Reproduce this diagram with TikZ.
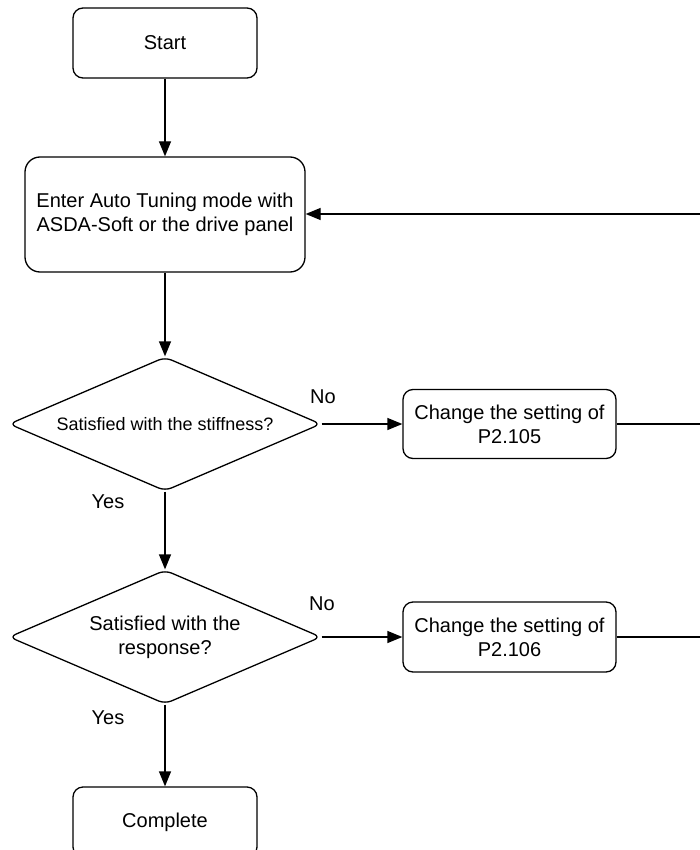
\documentclass[tikz,border=0pt]{standalone}
\usepackage{fontspec}
\setmainfont{Liberation Sans}
\usetikzlibrary{shapes.geometric,arrows.meta}
\begin{document}
\begin{tikzpicture}[x=1pt,y=-1pt,
  every node/.style={font=\fontsize{20}{24}\selectfont},
  rbox/.style={draw, line width=1.3pt, rounded corners=10pt, align=center, inner sep=0pt},
  decision/.style={draw, diamond, aspect=2.32, line width=1.3pt, rounded corners=7pt, inner sep=0pt, align=center},
  flow/.style={line width=1.3pt, -{Triangle[length=15pt,width=12pt]}},
  plain/.style={line width=1.3pt},
  lbl/.style={inner sep=0pt}]
\useasboundingbox (0,0) rectangle (700,850);
\clip (0,0) rectangle (700,850);

\node[rbox, minimum width=184pt, minimum height=70pt] (start) at (165,43) {Start};
\node[rbox, rounded corners=15pt, minimum width=280pt, minimum height=115pt] (enter) at (165,214.5)
  {Enter Auto Tuning mode with\\ASDA-Soft or the drive panel};
\node[decision, minimum width=312pt, minimum height=134pt, font=\fontsize{18}{22}\selectfont] (d1) at (165,424)
  {Satisfied with the stiffness?};
\node[rbox, minimum width=213pt, minimum height=69pt] (p105) at (509.5,424)
  {Change the setting of\\P2.105};
\node[decision, minimum width=312pt, minimum height=134pt] (d2) at (165,637)
  {Satisfied with the\\response?};
\node[rbox, minimum width=213pt, minimum height=70pt] (p106) at (509.5,637)
  {Change the setting of\\P2.106};
\node[rbox, minimum width=184pt, minimum height=70pt] (done) at (165,822) {Complete};

\coordinate (r1) at (702,424);
\coordinate (r2) at (702,637);
\coordinate (r0) at (702,214);

\node[lbl] (no1) at (323,397) {No};
\node[lbl] (yes1) at (108,502) {Yes};
\node[lbl] (no2) at (322,604) {No};
\node[lbl] (yes2) at (108,718) {Yes};

\draw[flow] (start) -- (enter);
\draw[flow] (enter) -- (d1.north);
\draw[flow] (d1.east) -- (p105.west);
\draw[plain] (p105.east) -- (r1);
\draw[flow] (r0) -- (enter.east |- r0);
\draw[flow] (d1.south) -- (d2.north);
\draw[flow] (d2.east) -- (p106.west);
\draw[plain] (p106.east) -- (r2);
\draw[flow] (d2.south) -- (done.north);
\end{tikzpicture}
\end{document}
